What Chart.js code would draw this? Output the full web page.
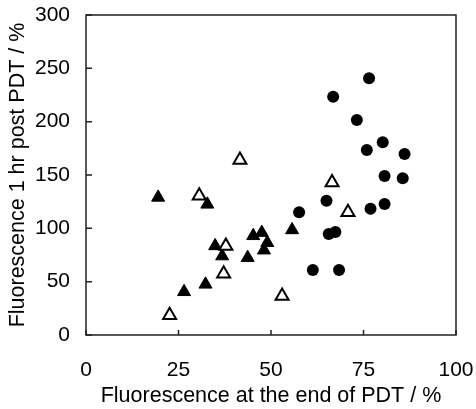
<!DOCTYPE html>
<html lang="en">
<head>
  <meta charset="UTF-8">
  <title>Fluorescence scatter</title>
  <script src="https://cdn.jsdelivr.net/npm/chart.js"></script>
  <style>
    html, body { margin: 0; padding: 0; background: white; }
    #wrap { width: 476px; height: 409px; }
  </style>
</head>
<body>
  <div id="wrap"><canvas id="scatter" width="476" height="409"></canvas></div>

  <script>
    // filled circles
    const circleX = [76.5, 66.8, 73.2, 80.2, 75.9, 86.1, 80.7, 85.6, 65.0, 57.6, 76.9, 80.7, 65.6, 67.4, 61.3, 68.4];
    const circleY = [240.6, 223.4, 201.6, 180.6, 173.4, 169.7, 149, 146.9, 125.9, 115, 118.4, 122.8, 94.7, 96.6, 60.9, 60.9];

    // open triangles
    const openTriX = [41.6, 66.5, 70.8, 53.0, 30.6, 37.8, 37.2, 22.6];
    const openTriY = [164, 143, 115, 36.5, 130.5, 83.5, 57.5, 18.5];

    // filled triangles
    const fillTriX = [19.5, 32.8, 34.9, 36.8, 26.5, 32.3, 45.2, 47.5, 49.0, 48.1, 43.7, 55.7];
    const fillTriY = [129, 122.5, 83.5, 74, 40.5, 47.5, 93, 96, 86.5, 79.5, 72.5, 98.5];

    const xTicks = [0, 25, 50, 75, 100];
    const yTicks = [0, 50, 100, 150, 200, 250, 300];

    const xTitle = 'Fluorescence at the end of PDT / %';
    const yTitle = 'Fluorescence 1 hr post PDT / %';

    const pts = (xs, ys) => xs.map((x, i) => ({ x: x, y: ys[i] }));

    const FONT = 'Liberation Sans, Arial, sans-serif';

    // no extra room for overhanging tick labels, the layout padding does that
    const noOverhang = (s) => {
      s.paddingTop = 0; s.paddingBottom = 0;
      s.paddingLeft = 0; s.paddingRight = 0;
    };

    // box round the plot and inward tick marks
    const framePlugin = {
      id: 'frame',
      afterDraw(chart) {
        const { ctx, chartArea: a, scales } = chart;
        ctx.save();
        ctx.strokeStyle = '#222';
        ctx.lineWidth = 1.5;
        ctx.beginPath();
        for (const v of xTicks) {
          const px = scales.x.getPixelForValue(v);
          ctx.moveTo(px, a.bottom);
          ctx.lineTo(px, a.bottom - 5);
        }
        for (const v of yTicks) {
          const py = scales.y.getPixelForValue(v);
          ctx.moveTo(a.left, py);
          ctx.lineTo(a.left + 6, py);
        }
        ctx.stroke();
        ctx.strokeRect(a.left, a.top, a.right - a.left, a.bottom - a.top);
        ctx.restore();
      }
    };

    new Chart(document.getElementById('scatter').getContext('2d'), {
      type: 'scatter',
      data: {
        datasets: [
          {
            label: 'circles',
            data: pts(circleX, circleY),
            pointStyle: 'circle',
            pointRadius: 6,
            backgroundColor: '#000',
            borderColor: '#000',
            borderWidth: 0
          },
          {
            label: 'open triangles',
            data: pts(openTriX, openTriY),
            pointStyle: 'triangle',
            pointRadius: 7.5,
            backgroundColor: '#fff',
            borderColor: '#000',
            borderWidth: 2
          },
          {
            label: 'filled triangles',
            data: pts(fillTriX, fillTriY),
            pointStyle: 'triangle',
            pointRadius: 7.5,
            backgroundColor: '#000',
            borderColor: '#000',
            borderWidth: 1
          }
        ]
      },
      options: {
        responsive: false,
        animation: false,
        layout: { padding: { left: 0, top: 15, right: 20, bottom: 0 } },
        plugins: {
          legend: { display: false },
          tooltip: { enabled: false }
        },
        scales: {
          x: {
            type: 'linear',
            min: 0,
            max: 100,
            afterBuildTicks: (s) => { s.ticks = xTicks.map(v => ({ value: v })); },
            afterFit: (s) => { s.height = 74; noOverhang(s); },
            grid: { display: false, drawTicks: false },
            border: { display: false },
            ticks: { color: '#000', padding: 23, font: { family: FONT, size: 21 } },
            title: {
              display: true,
              text: xTitle,
              color: '#000',
              padding: { top: 0, bottom: 0 },
              font: { family: FONT, size: 21.5 }
            }
          },
          y: {
            type: 'linear',
            min: 0,
            max: 300,
            afterBuildTicks: (s) => { s.ticks = yTicks.map(v => ({ value: v })); },
            afterFit: (s) => { s.width = 86; noOverhang(s); },
            grid: { display: false, drawTicks: false },
            border: { display: false },
            ticks: { color: '#000', padding: 16, font: { family: FONT, size: 21 } },
            title: {
              display: true,
              text: yTitle,
              color: '#000',
              padding: { top: 5, bottom: 4 },
              font: { family: FONT, size: 21.5 }
            }
          }
        }
      },
      plugins: [framePlugin]
    });
  </script>
</body>
</html>
